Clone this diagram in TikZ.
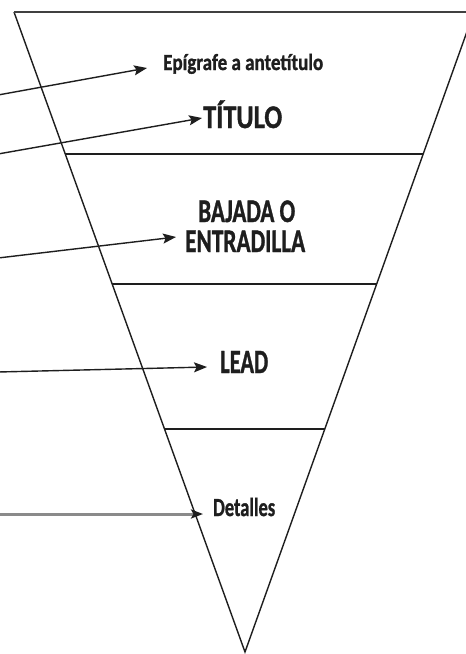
\documentclass[tikz,border=0pt]{standalone}
\usepackage{fontspec}
\setmainfont{Carlito}[BoldFeatures={FakeBold=1.2}]
\usetikzlibrary{arrows.meta,calc}
\definecolor{ink}{HTML}{1E1E1E}
\definecolor{greyline}{HTML}{8A8A8A}
\tikzset{
  edgeline/.style={draw=ink, line width=1.4pt, line join=miter},
  sepline/.style={draw=ink, line width=1.8pt},
  topline/.style={draw=ink!85, line width=2.6pt},
  pointer/.style={draw=ink, line width=1.4pt, -{Stealth[length=13pt,width=10pt,inset=2.5pt]}},
  greypointer/.style={draw=greyline, line width=3pt, -{Stealth[length=12pt,width=9pt,inset=2.5pt,color=ink]}},
  lbl/.style={inner sep=0pt, anchor=base west, text=ink, font=\bfseries},
}
\newcommand\fitw[3]{\resizebox{#1pt}{\height}{\fontsize{#2}{#2}\selectfont #3}}
\begin{document}
\begin{tikzpicture}[x=1pt,y=-1pt]
\useasboundingbox (0,0) rectangle (466,654);
\clip (0,0) rectangle (466,654);
\fill[white] (0,0) rectangle (466,654);
% triangle
\coordinate (tl) at (14,12);
\coordinate (tr) at (474,12);
\coordinate (ap) at (245,652);
\draw[edgeline] (tl) -- (ap) -- (tr);
\draw[topline] (tl) -- (tr);
\draw[sepline] ($(tl)!0.2219!(ap)$) -- ($(tr)!0.2219!(ap)$);
\draw[sepline] ($(tl)!0.4250!(ap)$) -- ($(tr)!0.4250!(ap)$);
\draw[sepline] ($(tl)!0.6516!(ap)$) -- ($(tr)!0.6516!(ap)$);
% labels
\node[lbl] (epi) at (163,70) {\fitw{160}{23}{Epígrafe a antetítulo}};
\node[lbl] (tit) at (203,128) {\fitw{79}{33}{TÍTULO}};
\node[lbl] (baj1) at (198,222) {\fitw{97}{33}{BAJADA O}};
\node[lbl] (baj2) at (185,252) {\fitw{120}{33}{ENTRADILLA}};
\node[lbl] (lead) at (220,373) {\fitw{48}{34}{LEAD}};
\node[lbl] (det) at (213,516) {\fitw{62}{26}{Detalles}};
% arrows
\coordinate (s1) at (-2,95);  \coordinate (t1) at (147,68);
\coordinate (s2) at (-2,154); \coordinate (t2) at (202,118);
\coordinate (s3) at (-2,258); \coordinate (t3) at (176,237);
\coordinate (s4) at (-2,372); \coordinate (t4) at (207,367);
\coordinate (s5) at (-2,514); \coordinate (t5) at (203,514);
\draw[pointer] (s1) -- (t1);
\draw[pointer] (s2) -- (t2);
\draw[pointer] (s3) -- (t3);
\draw[pointer] (s4) -- (t4);
\draw[greypointer] (s5) -- (t5);
\end{tikzpicture}
\end{document}
